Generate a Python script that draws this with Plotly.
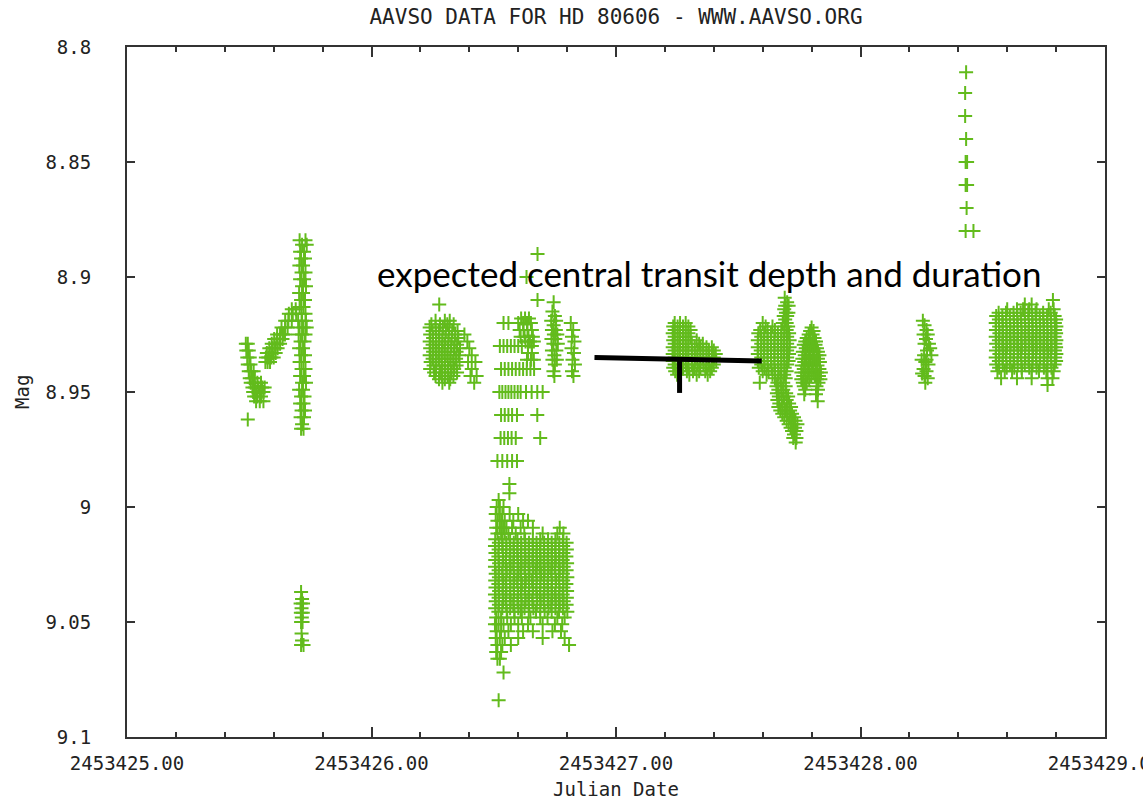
import plotly.graph_objects as go

JD0 = 2453425.0

# ---- Data: (mag, [days after JD0]) rows ----
night1_rows = [
    (8.929, [0.486, 0.494]), (8.932, [0.488, 0.498]), (8.935, [0.492, 0.502]),
    (8.938, [0.494, 0.505]), (8.941, [0.498, 0.508, 0.518]), (8.944, [0.502, 0.512, 0.523]),
    (8.946, [0.506, 0.518, 0.533, 0.548]), (8.948, [0.513, 0.523, 0.538, 0.553, 0.563]),
    (8.950, [0.516, 0.528, 0.543, 0.558]), (8.952, [0.520, 0.533, 0.548]),
    (8.954, [0.528, 0.543, 0.558]), (8.962, [0.494]),
    (8.937, [0.566, 0.575, 0.585]), (8.935, [0.568, 0.578, 0.590, 0.600]),
    (8.933, [0.572, 0.584, 0.596, 0.608]), (8.931, [0.582, 0.594, 0.606, 0.616]),
    (8.929, [0.592, 0.604, 0.616, 0.626]), (8.927, [0.602, 0.614, 0.626, 0.636]),
    (8.925, [0.614, 0.626, 0.638, 0.646]), (8.922, [0.632, 0.647, 0.657]),
    (8.919, [0.647, 0.660, 0.674]), (8.916, [0.662, 0.678, 0.692]), (8.914, [0.674, 0.690]),
    (8.884, [0.706, 0.730]), (8.886, [0.716, 0.735]), (8.889, [0.708, 0.724]),
    (8.892, [0.712, 0.728]), (8.895, [0.705, 0.720]), (8.898, [0.714, 0.730]),
    (8.901, [0.708, 0.724]), (8.904, [0.716, 0.732]), (8.907, [0.704, 0.720]),
    (8.910, [0.712, 0.728]), (8.913, [0.706, 0.722]), (8.916, [0.714, 0.730]),
    (8.919, [0.700, 0.716, 0.732]), (8.922, [0.706, 0.722, 0.735]), (8.925, [0.702, 0.716, 0.730]),
    (8.928, [0.710, 0.726]), (8.931, [0.704, 0.720]), (8.934, [0.712, 0.728]),
    (8.937, [0.706, 0.722]), (8.940, [0.714, 0.730]), (8.943, [0.708, 0.724]),
    (8.946, [0.716, 0.732]), (8.949, [0.704, 0.720]), (8.952, [0.712, 0.726]),
    (8.955, [0.708, 0.722]), (8.958, [0.714, 0.728]), (8.961, [0.710, 0.724]),
    (8.964, [0.716]), (8.966, [0.712, 0.722]),
    (9.037, [0.712]), (9.040, [0.716]), (9.042, [0.710, 0.720]), (9.044, [0.714]),
    (9.046, [0.711, 0.719]), (9.048, [0.715]), (9.050, [0.712, 0.718]),
    (9.055, [0.714]), (9.058, [0.716]), (9.060, [0.712, 0.722]),
]

night2_rows = [
    (8.912, [1.277]),
    (8.9190, [1.262, 1.300, 1.320]),
    (8.9205, [1.245, 1.280, 1.310, 1.336]),
    (8.9220, [1.238, 1.262, 1.292, 1.318]),
    (8.9235, [1.250, 1.275, 1.304, 1.330, 1.352]),
    (8.9250, [1.240, 1.264, 1.290, 1.316, 1.342, 1.380]),
    (8.9265, [1.252, 1.278, 1.302, 1.328, 1.355]),
    (8.9280, [1.238, 1.265, 1.290, 1.314, 1.340, 1.392]),
    (8.9295, [1.250, 1.276, 1.300, 1.326, 1.350]),
    (8.9310, [1.240, 1.262, 1.288, 1.312, 1.338, 1.362, 1.400]),
    (8.9325, [1.252, 1.274, 1.298, 1.324, 1.348]),
    (8.9340, [1.238, 1.264, 1.286, 1.310, 1.336, 1.358, 1.410]),
    (8.9355, [1.250, 1.276, 1.300, 1.322, 1.346]),
    (8.9370, [1.242, 1.266, 1.288, 1.312, 1.334, 1.360, 1.395, 1.425]),
    (8.9385, [1.254, 1.278, 1.300, 1.324, 1.348]),
    (8.9400, [1.240, 1.264, 1.290, 1.314, 1.338, 1.410]),
    (8.9415, [1.256, 1.280, 1.302, 1.326, 1.350]),
    (8.9430, [1.262, 1.288, 1.312, 1.335, 1.405, 1.430]),
    (8.9445, [1.276, 1.300, 1.322]),
    (8.9460, [1.290, 1.318, 1.420]),
]

night3_rows = [
    (8.890, [1.679]), (8.900, [1.634]), (8.910, [1.679]),
    (8.918, [1.612, 1.628, 1.644]),
    (8.920, [1.540, 1.560, 1.600, 1.620, 1.636, 1.652]),
    (8.923, [1.606, 1.622, 1.638, 1.656]),
    (8.926, [1.610, 1.626, 1.642, 1.660]),
    (8.928, [1.630, 1.648, 1.664]),
    (8.930, [1.525, 1.540, 1.555, 1.570, 1.585, 1.600, 1.615, 1.640, 1.656]),
    (8.933, [1.640, 1.656]),
    (8.936, [1.636, 1.652, 1.664]),
    (8.940, [1.530, 1.545, 1.560, 1.575, 1.590, 1.605, 1.620, 1.635, 1.650, 1.665]),
    (8.950, [1.523, 1.535, 1.548, 1.560, 1.572, 1.585, 1.598, 1.610, 1.632, 1.655, 1.678, 1.700]),
    (8.960, [1.530, 1.545, 1.560, 1.575, 1.595, 1.678]),
    (8.970, [1.528, 1.543, 1.558, 1.573, 1.590, 1.690]),
    (8.980, [1.515, 1.535, 1.555, 1.575, 1.595]),
    (8.990, [1.564]), (8.994, [1.564]),
    (8.997, [1.520]),
    (9.000, [1.512, 1.525, 1.540]),
    (9.003, [1.508, 1.522, 1.535, 1.565, 1.600]),
    (9.006, [1.515, 1.530, 1.545, 1.580, 1.620, 1.640]),
    (9.009, [1.510, 1.524, 1.538, 1.552, 1.575, 1.610, 1.660, 1.770]),
    (9.0115, [1.515, 1.530, 1.545, 1.560, 1.590, 1.625, 1.700, 1.760, 1.785]),
    (9.0140, [1.506, 1.536, 1.567, 1.597, 1.628, 1.660, 1.690, 1.722, 1.752, 1.783]),
    (9.0155, [1.521, 1.551, 1.582, 1.612, 1.644, 1.675, 1.706, 1.737, 1.768, 1.798]),
    (9.0170, [1.505, 1.535, 1.566, 1.598, 1.629, 1.659, 1.691, 1.721, 1.753, 1.784]),
    (9.0185, [1.520, 1.552, 1.581, 1.613, 1.643, 1.676, 1.705, 1.738, 1.767, 1.799]),
    (9.0200, [1.507, 1.537, 1.568, 1.596, 1.627, 1.661, 1.689, 1.723, 1.751, 1.785]),
    (9.0215, [1.519, 1.550, 1.583, 1.611, 1.645, 1.674, 1.707, 1.736, 1.769, 1.797]),
    (9.0230, [1.506, 1.538, 1.565, 1.599, 1.630, 1.658, 1.692, 1.720, 1.754, 1.782]),
    (9.0245, [1.522, 1.549, 1.580, 1.614, 1.642, 1.677, 1.704, 1.739, 1.766, 1.800]),
    (9.0260, [1.505, 1.536, 1.569, 1.597, 1.626, 1.662, 1.688, 1.724, 1.750, 1.786]),
    (9.0275, [1.520, 1.553, 1.582, 1.610, 1.646, 1.673, 1.708, 1.735, 1.770, 1.798]),
    (9.0290, [1.508, 1.535, 1.566, 1.600, 1.628, 1.660, 1.693, 1.721, 1.752, 1.783]),
    (9.0305, [1.521, 1.551, 1.584, 1.612, 1.643, 1.676, 1.705, 1.737, 1.767, 1.801]),
    (9.0320, [1.506, 1.539, 1.567, 1.596, 1.631, 1.657, 1.690, 1.722, 1.755, 1.784]),
    (9.0335, [1.519, 1.550, 1.581, 1.615, 1.644, 1.675, 1.706, 1.738, 1.768, 1.797]),
    (9.0350, [1.507, 1.536, 1.568, 1.598, 1.627, 1.661, 1.691, 1.720, 1.753, 1.785]),
    (9.0365, [1.522, 1.552, 1.583, 1.611, 1.645, 1.674, 1.707, 1.736, 1.769, 1.800]),
    (9.0380, [1.505, 1.537, 1.566, 1.599, 1.629, 1.659, 1.689, 1.723, 1.751, 1.782]),
    (9.0395, [1.520, 1.549, 1.582, 1.613, 1.642, 1.677, 1.704, 1.739, 1.766, 1.799]),
    (9.0410, [1.508, 1.538, 1.569, 1.597, 1.630, 1.658, 1.692, 1.721, 1.754, 1.786]),
    (9.0425, [1.521, 1.551, 1.580, 1.614, 1.644, 1.676, 1.706, 1.735, 1.770, 1.798]),
    (9.0440, [1.506, 1.535, 1.567, 1.600, 1.626, 1.662, 1.690, 1.724, 1.752, 1.783]),
    (9.0455, [1.519, 1.553, 1.584, 1.610, 1.643, 1.673, 1.708, 1.737, 1.767, 1.801]),
    (9.048, [1.510, 1.530, 1.555, 1.585, 1.615, 1.650, 1.690, 1.720, 1.760, 1.790]),
    (9.051, [1.505, 1.520, 1.540, 1.570, 1.600, 1.640, 1.700, 1.750, 1.780]),
    (9.054, [1.512, 1.530, 1.560, 1.620, 1.660, 1.740, 1.775]),
    (9.057, [1.508, 1.525, 1.545, 1.600, 1.700, 1.790]),
    (9.060, [1.515, 1.535, 1.570, 1.808]),
    (9.063, [1.510, 1.530]),
    (9.066, [1.515, 1.525]),
    (9.072, [1.540]),
    (9.084, [1.520]),
    (8.911, [1.745]), (8.915, [1.740]), (8.917, [1.750]), (8.919, [1.735, 1.755]),
    (8.921, [1.745]), (8.923, [1.738, 1.754]), (8.925, [1.746, 1.760]),
    (8.927, [1.736, 1.752]), (8.929, [1.744, 1.762]), (8.932, [1.738, 1.756]),
    (8.934, [1.748]), (8.936, [1.740, 1.758]), (8.938, [1.750]),
    (8.941, [1.744]), (8.943, [1.748]),
    (8.920, [1.815]), (8.923, [1.825]), (8.926, [1.820]), (8.928, [1.830]),
    (8.931, [1.818]), (8.933, [1.828]), (8.936, [1.822]), (8.938, [1.832]),
    (8.941, [1.820]), (8.943, [1.826]),
]

night4_rows = [
    (8.9200, [2.240, 2.262, 2.285]),
    (8.9215, [2.234, 2.252, 2.274, 2.296]),
    (8.9230, [2.240, 2.262, 2.285, 2.305]),
    (8.9245, [2.232, 2.252, 2.274, 2.296]),
    (8.9260, [2.240, 2.262, 2.285, 2.305]),
    (8.9275, [2.234, 2.252, 2.274, 2.296, 2.330]),
    (8.9290, [2.240, 2.262, 2.285, 2.310, 2.340, 2.355]),
    (8.9305, [2.232, 2.252, 2.274, 2.296, 2.322, 2.345, 2.370, 2.392]),
    (8.9320, [2.240, 2.262, 2.285, 2.310, 2.333, 2.357, 2.380, 2.400]),
    (8.9335, [2.232, 2.252, 2.274, 2.296, 2.322, 2.345, 2.370, 2.392, 2.408]),
    (8.9350, [2.240, 2.262, 2.285, 2.310, 2.333, 2.357, 2.380, 2.400]),
    (8.9365, [2.232, 2.252, 2.274, 2.296, 2.322, 2.345, 2.370, 2.392, 2.410]),
    (8.9380, [2.240, 2.262, 2.285, 2.310, 2.333, 2.357, 2.380, 2.400]),
    (8.9395, [2.234, 2.252, 2.274, 2.296, 2.322, 2.345, 2.370, 2.392]),
    (8.9410, [2.242, 2.262, 2.290, 2.315, 2.340, 2.365, 2.385]),
    (8.9425, [2.250, 2.300, 2.330, 2.375]),
    (8.9090, [2.690]), (8.9110, [2.700]), (8.9125, [2.692, 2.706]), (8.9140, [2.688]),
    (8.9155, [2.695, 2.705]), (8.9170, [2.686, 2.700]), (8.9185, [2.692]),
    (8.9200, [2.600, 2.682, 2.698]),
    (8.9215, [2.612, 2.640, 2.690, 2.704]),
    (8.9230, [2.590, 2.620, 2.650, 2.676, 2.698]),
    (8.9245, [2.582, 2.606, 2.634, 2.662, 2.688, 2.708]),
    (8.9260, [2.594, 2.620, 2.648, 2.676, 2.700]),
    (8.9275, [2.580, 2.606, 2.634, 2.662, 2.688, 2.710]),
    (8.9290, [2.594, 2.620, 2.648, 2.676, 2.700]),
    (8.9305, [2.580, 2.606, 2.634, 2.662, 2.688, 2.710]),
    (8.9320, [2.592, 2.620, 2.648, 2.676, 2.700]),
    (8.9335, [2.580, 2.606, 2.634, 2.662, 2.688, 2.708]),
    (8.9350, [2.594, 2.620, 2.648, 2.676, 2.700]),
    (8.9365, [2.580, 2.606, 2.634, 2.662, 2.688, 2.706]),
    (8.9380, [2.594, 2.620, 2.648, 2.676, 2.700]),
    (8.9395, [2.584, 2.608, 2.636, 2.664, 2.690]),
    (8.9410, [2.600, 2.624, 2.650, 2.676, 2.698]),
    (8.9425, [2.616, 2.640, 2.664, 2.688]),
    (8.9440, [2.650, 2.672, 2.694]),
    (8.9460, [2.588, 2.660, 2.684]),
    (8.9475, [2.656, 2.676, 2.694]), (8.9490, [2.664, 2.684]),
    (8.9505, [2.658, 2.676, 2.696]), (8.9520, [2.666, 2.686, 2.704]),
    (8.9535, [2.660, 2.678, 2.698]), (8.9550, [2.668, 2.688, 2.708]),
    (8.9565, [2.664, 2.680, 2.700, 2.716]), (8.9580, [2.672, 2.692, 2.712]),
    (8.9595, [2.680, 2.700, 2.720]), (8.9610, [2.688, 2.708, 2.728]),
    (8.9625, [2.698, 2.716, 2.734]), (8.9640, [2.706, 2.724, 2.742]),
    (8.9655, [2.714, 2.732]), (8.9670, [2.720, 2.738]), (8.9685, [2.728]),
    (8.9700, [2.725, 2.738]), (8.9720, [2.735]),
    (8.9220, [2.800]), (8.9235, [2.794, 2.808]), (8.9250, [2.788, 2.804]),
    (8.9265, [2.780, 2.796, 2.812]), (8.9280, [2.774, 2.790, 2.806, 2.818]),
    (8.9295, [2.768, 2.784, 2.800, 2.816]), (8.9310, [2.776, 2.792, 2.808, 2.822]),
    (8.9325, [2.764, 2.780, 2.796, 2.812, 2.826]), (8.9340, [2.772, 2.788, 2.804, 2.820, 2.832]),
    (8.9355, [2.762, 2.778, 2.794, 2.810, 2.826]), (8.9370, [2.770, 2.786, 2.802, 2.818, 2.834]),
    (8.9385, [2.760, 2.776, 2.792, 2.808, 2.824]), (8.9400, [2.768, 2.784, 2.800, 2.816, 2.832]),
    (8.9415, [2.758, 2.774, 2.790, 2.806, 2.822, 2.838]), (8.9430, [2.766, 2.782, 2.798, 2.814, 2.830]),
    (8.9445, [2.758, 2.774, 2.790, 2.822, 2.836]), (8.9460, [2.764, 2.780, 2.828]),
    (8.9475, [2.768, 2.820]), (8.9490, [2.774, 2.826]), (8.9510, [2.770, 2.818]),
    (8.9540, [2.825]),
]

night5_rows = [
    (8.919, [3.255]), (8.921, [3.262]), (8.923, [3.270]), (8.925, [3.275, 3.258]),
    (8.927, [3.268]), (8.929, [3.280, 3.262]), (8.931, [3.285]), (8.932, [3.272]),
    (8.934, [3.260, 3.290]), (8.936, [3.250, 3.270]), (8.937, [3.265]), (8.938, [3.278]),
    (8.940, [3.258]), (8.941, [3.270]), (8.942, [3.252]), (8.943, [3.262]),
    (8.944, [3.275]), (8.946, [3.265]),
    (8.811, [3.432]), (8.820, [3.428]), (8.830, [3.428]), (8.840, [3.432]),
    (8.850, [3.430, 3.436]), (8.860, [3.430, 3.436]), (8.870, [3.434]), (8.880, [3.430, 3.462]),
    (8.9100, [3.787]),
    (8.9120, [3.672, 3.700]),
    (8.9140, [3.600, 3.640, 3.665, 3.690, 3.720, 3.770, 3.790]),
    (8.9155, [3.565, 3.595, 3.626, 3.655, 3.686, 3.716, 3.747, 3.778]),
    (8.9170, [3.555, 3.580, 3.611, 3.641, 3.672, 3.702, 3.733, 3.763, 3.794]),
    (8.9185, [3.566, 3.596, 3.627, 3.657, 3.688, 3.718, 3.748, 3.779, 3.800]),
    (8.9200, [3.553, 3.582, 3.612, 3.643, 3.673, 3.704, 3.734, 3.765, 3.795]),
    (8.9215, [3.567, 3.597, 3.628, 3.658, 3.689, 3.719, 3.750, 3.780, 3.801]),
    (8.9230, [3.554, 3.581, 3.613, 3.642, 3.674, 3.703, 3.735, 3.764, 3.796]),
    (8.9245, [3.568, 3.598, 3.626, 3.659, 3.687, 3.720, 3.749, 3.781, 3.800]),
    (8.9260, [3.553, 3.583, 3.611, 3.644, 3.672, 3.705, 3.733, 3.766, 3.794]),
    (8.9275, [3.566, 3.596, 3.629, 3.657, 3.690, 3.717, 3.751, 3.779, 3.801]),
    (8.9290, [3.555, 3.580, 3.614, 3.641, 3.675, 3.702, 3.736, 3.763, 3.797]),
    (8.9305, [3.567, 3.599, 3.627, 3.660, 3.688, 3.721, 3.748, 3.782, 3.800]),
    (8.9320, [3.554, 3.584, 3.612, 3.645, 3.673, 3.706, 3.734, 3.767, 3.795]),
    (8.9335, [3.568, 3.595, 3.628, 3.656, 3.689, 3.718, 3.752, 3.778, 3.801]),
    (8.9350, [3.553, 3.581, 3.613, 3.642, 3.674, 3.703, 3.735, 3.764, 3.796]),
    (8.9365, [3.566, 3.597, 3.626, 3.658, 3.687, 3.719, 3.749, 3.780, 3.800]),
    (8.9380, [3.555, 3.582, 3.611, 3.643, 3.672, 3.704, 3.733, 3.765, 3.794]),
    (8.9395, [3.567, 3.598, 3.629, 3.659, 3.690, 3.720, 3.750, 3.781]),
    (8.9410, [3.560, 3.590, 3.620, 3.660, 3.700, 3.730, 3.760, 3.790]),
    (8.9440, [3.575, 3.640, 3.700, 3.765, 3.785]),
    (8.9470, [3.765]),
]

# Expected transit marker (hand-drawn overlay): JD and Mag
transit_bar_jd = [2453426.912, 2453427.596]
transit_bar_mag = [8.9350, 8.9365]
transit_depth_jd = [2453427.260, 2453427.260]
transit_depth_mag = [8.9358, 8.9504]

x_range = [2453425.0, 2453429.0]
y_range = [9.1, 8.8]

GREEN = "rgb(98,187,28)"
TXT = "#222222"
MONO = "DejaVu Sans Mono, Liberation Mono, monospace"

xs, ys = [], []
for rows in (night1_rows, night2_rows, night3_rows, night4_rows, night5_rows):
    for mag, days in rows:
        for d in days:
            xs.append(JD0 + d)
            ys.append(mag)

fig = go.Figure()
fig.add_trace(go.Scatter(
    x=xs, y=ys, mode="markers",
    marker=dict(symbol="cross-thin-open", size=10, color=GREEN,
                line=dict(color=GREEN, width=2)),
    hoverinfo="x+y", showlegend=False))
fig.add_trace(go.Scatter(x=transit_bar_jd, y=transit_bar_mag, mode="lines",
                         line=dict(color="black", width=5), showlegend=False))
fig.add_trace(go.Scatter(x=transit_depth_jd, y=transit_depth_mag, mode="lines",
                         line=dict(color="black", width=5), showlegend=False))

fig.update_layout(
    width=1143, height=799,
    margin=dict(l=127, r=38, t=47, b=62, autoexpand=False),
    paper_bgcolor="white", plot_bgcolor="white",
    title=dict(text="AAVSO DATA FOR HD 80606 - WWW.AAVSO.ORG",
               x=0.5, xref="paper", xanchor="center",
               y=1 - 17 / 799, yref="container", yanchor="middle",
               font=dict(family=MONO, size=21, color=TXT)),
    xaxis=dict(range=x_range, showgrid=False, zeroline=False, automargin=False,
               showline=True, linecolor="#333333", linewidth=2, mirror="ticks",
               ticks="inside", ticklen=10, tickwidth=1.5, tickcolor="#333333",
               tick0=2453425.0, dtick=1, tickformat=".2f",
               minor=dict(ticks="inside", ticklen=5, dtick=0.2, tickcolor="#333333",
                          tickwidth=1.5, showgrid=False),
               ticklabelstandoff=8, ticklabeloverflow="allow",
               tickfont=dict(family=MONO, size=19, color=TXT)),
    yaxis=dict(range=y_range, showgrid=False, zeroline=False, automargin=False,
               showline=True, linecolor="#333333", linewidth=2, mirror="ticks",
               ticks="inside", ticklen=8, tickwidth=1.5, tickcolor="#333333",
               tick0=8.8, dtick=0.05,
               ticklabelstandoff=30,
               tickfont=dict(family=MONO, size=19, color=TXT)),
    annotations=[
        dict(text="Julian Date", xref="paper", yref="paper", x=0.5, y=-0.0754,
             xanchor="center", yanchor="middle", showarrow=False,
             font=dict(family=MONO, size=19, color=TXT)),
        dict(text="Mag", xref="paper", yref="paper", x=-0.1074, y=0.5,
             xanchor="center", yanchor="middle", textangle=-90, showarrow=False,
             font=dict(family=MONO, size=19, color=TXT)),
        dict(text="expected central transit depth and duration",
             xref="x", yref="y", x=2453427.379, y=8.8983,
             xanchor="center", yanchor="middle", showarrow=False,
             font=dict(family="Lato, Open Sans, sans-serif", size=35, color="black")),
    ],
)

fig.write_html("out.html")
